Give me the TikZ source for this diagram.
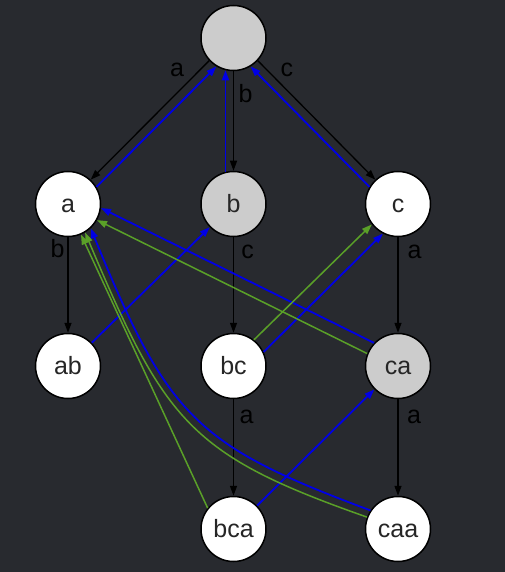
\documentclass[tikz,border=0pt]{standalone}
\usepackage{fontspec}
\setmainfont{Liberation Sans}
\usetikzlibrary{arrows.meta}
\definecolor{bg}{RGB}{40,42,47}
\definecolor{nodegray}{RGB}{204,204,204}
\definecolor{linkblue}{RGB}{0,0,230}
\definecolor{linkgreen}{RGB}{90,160,40}
\begin{document}
\begin{tikzpicture}[x=1pt,y=-1pt,
  st/.style={circle, draw=black, line width=1.5pt, minimum size=65pt, inner sep=0pt,
    font=\fontsize{25}{28}\selectfont, text height=18pt, text depth=2pt, text=black!85},
  wst/.style={st, fill=white},
  gst/.style={st, fill=nodegray},
  tree/.style={draw=black, line width=1.3pt, -{Triangle[length=10pt,width=7pt]}},
  sfx/.style={draw=linkblue, line width=1.8pt, -{Triangle[length=10pt,width=7pt]}},
  gsfx/.style={draw=linkgreen, line width=1.5pt, -{Triangle[length=10pt,width=7pt]}},
  lbl/.style={font=\fontsize{25}{28}\selectfont, text=black, anchor=base, inner sep=0pt}]
\useasboundingbox (0,0) rectangle (504,572);
\fill[bg] (-10,-10) rectangle (514,582);
% nodes
\node[gst] (root) at (233.5,38) {};
\node[wst] (a) at (68,204) {a};
\node[gst] (b) at (233.5,204) {b};
\node[wst] (c) at (398,204) {c};
\node[wst] (ab) at (68,366) {ab};
\node[wst] (bc) at (233.5,366) {bc};
\node[gst] (ca) at (398,366) {ca};
\node[wst] (bca) at (233.5,529) {bca};
\node[wst] (caa) at (398,529) {caa};
% tree edges
\draw[tree] (root.223) -- node[lbl,pos=0.137,xshift=-16pt]{a} (a.47);
\draw[tree] (root.270) -- node[lbl,pos=0.319,xshift=12pt]{b} (b.90);
\draw[tree] (root.317) -- node[lbl,pos=0.137,xshift=13pt]{c} (c.133);
\draw[tree] (a.south) -- node[lbl,pos=0.208,xshift=-10.5pt]{b} (ab.north);
\draw[tree] (b.south) -- node[lbl,pos=0.219,xshift=14pt]{c} (bc.north);
\draw[tree] (c.south) -- node[lbl,pos=0.219,xshift=16.5pt]{a} (ca.north);
\draw[tree] (bc.south) -- node[lbl,pos=0.247,xshift=13pt]{a} (bca.north);
\draw[tree] (ca.south) -- node[lbl,pos=0.247,xshift=16pt]{a} (caa.north);
% blue links
\draw[sfx] (a.31) -- (root.239);
\draw[sfx] (b.104) -- (root.256);
\draw[sfx] (c.149) -- (root.301);
\draw[sfx] (ab) -- (b);
\draw[sfx] (bc.25) -- (c.243);
\draw[sfx] (ca.136) -- (a.353);
\draw[sfx] (bca) -- (ca);
\draw[sfx] (caa.146) .. controls (195,445) and (168,417) .. (a.313);
% green links
\draw[gsfx] (bc.52) -- (c.218);
\draw[gsfx] (ca.158) -- (a.331);
\draw[gsfx] (bca.141) -- (a.293);
\draw[gsfx] (caa.159) .. controls (190,455) and (165,422) .. (a.301);
\end{tikzpicture}
\end{document}
